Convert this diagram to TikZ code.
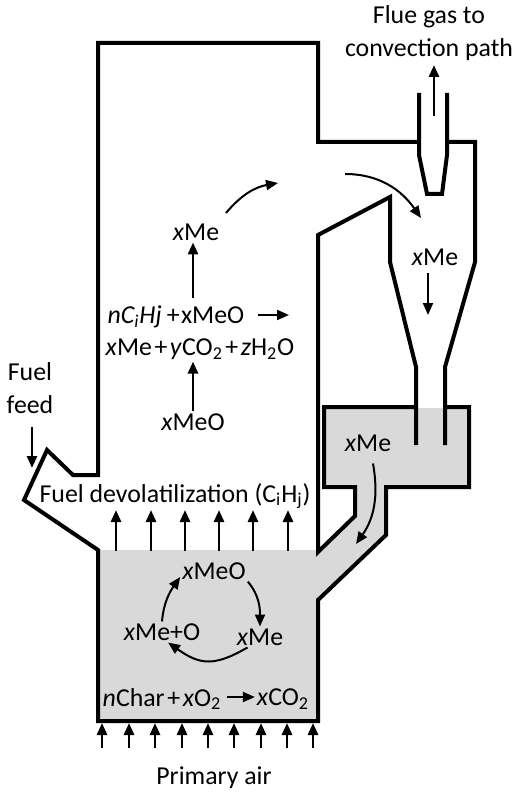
\documentclass[tikz,border=0pt]{standalone}
\usepackage{fontspec}
\setmainfont{Carlito}
\usepackage{xcolor}
\usetikzlibrary{arrows.meta,positioning}
\definecolor{bedgray}{HTML}{D9D9D9}
\newcommand{\vx}[1]{\textit{#1}}
\newcommand{\lowx}[1]{\textsubscript{#1}}
\newcommand{\pl}{\hspace{0.1em}+\hspace{0.1em}}
\tikzset{
  wall/.style={
    line width=0.08cm,
    miter limit=10
  },
  arrow/.style={
    -{Stealth[length=0.24cm,width=0.2cm,inset=0pt]},
    line width=0.04cm
  },
  arrowup/.style={
    arrow,
    line width=0.055cm
  },
  label/.style={
    font=\fontsize{14.7}{18.5}\selectfont,
    inner sep=1pt,
    align=center
  }
}

\begin{document}
\begin{tikzpicture}[x=0.02cm,y=-0.02cm]
\useasboundingbox (0,0) rectangle (523,793);

% grey bed and loop seal
\fill[bedgray] (98,550) -- (318,550) -- (355,516) -- (355,487) -- (324,487) -- (324,408)
  -- (469,408) -- (469,487) -- (386,487) -- (386,535) -- (318,600) -- (318,721) -- (98,721) -- cycle;

% walls
\draw[wall] (445,407) -- (469,407) -- (469,487) -- (386,487) -- (386,535) -- (318,600)
  -- (318,721) -- (98,721) -- (98,550) -- (24,500) -- (47,450) -- (73,475) -- (98,475) -- (98,43)
  -- (318,43) -- (318,142) -- (419,142);
\draw[wall] (447,142) -- (475,142) -- (475,262) -- (445,367) -- (445,445);
\draw[wall] (416,445) -- (416,367) -- (390,262) -- (390,197) -- (318,235) -- (318,552)
  -- (355,516) -- (355,487) -- (324,487) -- (324,407) -- (416,407);
\draw[wall] (419,93) -- (419,155) -- (427,194) -- (442,194) -- (447,155) -- (447,93);

\node[label] (flue) at (429,33) {Flue gas to\\convection path};
\node[label] (feed) at (30,388) {Fuel\\feed};
\node[label] (devol) at (175,496) {Fuel devolatilization (C\lowx{i}H\lowx{j})};
\node[label] (air) at (214,778) {Primary air};

\node[label] (me_cyc) at (435,257) {\vx{x}Me};
\node[label] (me_seal) at (368,443) {\vx{x}Me};
\node[label] (me_top) at (196,232) {\vx{x}Me};
\node[label] (eq_a) at (176,317) {\vx{nC\lowx{i}Hj}\hspace{0.2em}+\hspace{0.05em}xMeO};
\node[label] (eq_b) at (200,349) {\vx{x}Me\pl\vx{y}CO\lowx{2}\pl\vx{z}H\lowx{2}O};
\node[label] (meo_free) at (193,422) {\vx{x}MeO};

\node[label] (meo_bed) at (214,571) {\vx{x}MeO};
\node[label] (me_bed) at (260,637) {\vx{x}Me};
\node[label] (meo_plus) at (162,632) {\vx{x}Me+O};
\node[label] (char_l) at (162,699) {\vx{n}Char\pl\vx{x}O\lowx{2}};
\node[label] (char_r) at (283,699) {\vx{x}CO\lowx{2}};

\coordinate (gas_in) at (345,174);
\coordinate (gas_out) at (421,218);
\coordinate (rise_start) at (226,213);
\coordinate (rise_end) at (278,183);
\coordinate (eq_up) at (193,298);
\coordinate (eq_next) at (289,315);
\coordinate (feed_start) at (32,427);
\coordinate (feed_end) at (32,468);
\coordinate (flue_low) at (434,116);

\draw[arrowup] (flue_low) -- (434,65);
\draw[arrow] (gas_in) to[out=0,in=125] (gas_out);
\draw[arrow] (rise_start) to[out=50,in=190] (rise_end);
\draw[arrowup] (eq_up) -- (eq_up |- me_top.south);
\draw[arrow] (eq_a.east) ++(12,-2) -- (eq_next);
\draw[arrowup] (meo_free.north) -- (meo_free.north |- eq_b.south);
\draw[arrow] (428,273) -- (428,315);
\draw[arrow] (me_seal.south) ++(5,10) to[out=-80,in=55] (356,544);
\draw[arrowup] (feed_start) -- (feed_end);

\foreach \xa in {116,151,185,219,253,288}
  \draw[arrowup] (\xa,551) -- (\xa,510);
\foreach \xb in {102,129,155,182,208,234,261,287,313}
  \draw[arrowup] (\xb,748) -- (\xb,723);

\draw[arrow] (meo_bed.south east) to[out=-50,in=90] (me_bed.north);
\draw[arrow] (me_bed.-140) to[out=-150,in=-35,looseness=1.25] (meo_plus.-60);
\draw[arrow] (meo_plus.north) to[out=85,in=-125] (meo_bed.-170);
\draw[arrow,shorten <=0.08cm] (char_l.east) ++(0,-2) -- (char_r.west |- 0,697);

\end{tikzpicture}
\end{document}
